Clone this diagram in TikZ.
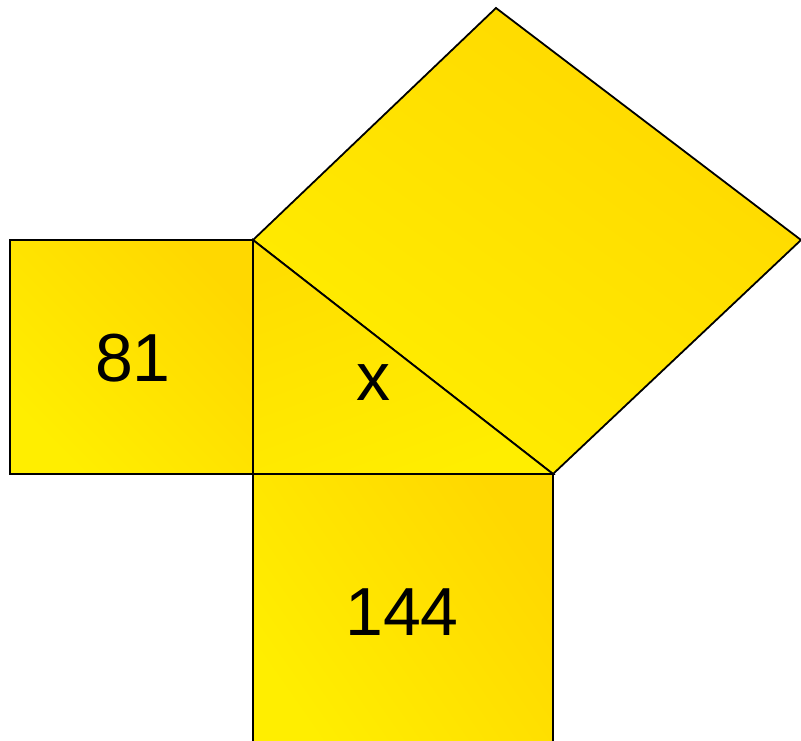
\documentclass[tikz,border=0pt]{standalone}
\usepackage{fontspec}
\setmainfont{Liberation Sans}
\definecolor{ybright}{RGB}{255,238,0}
\definecolor{ymid}{RGB}{255,228,0}
\definecolor{ydark}{RGB}{255,216,0}
\begin{document}
\begin{tikzpicture}[x=1pt,y=1pt,
  edge/.style={draw=black,line width=1.8pt,line join=miter},
  lab/.style={inner sep=0pt,font=\fontsize{68}{80}\selectfont}]
\useasboundingbox (0,0) rectangle (801,740);
\clip (0,0) rectangle (801,740);
% key points
\coordinate (A) at (253,500);
\coordinate (C) at (253,266);
\coordinate (B) at (553,266);
\coordinate (R) at (801,500);
\coordinate (T) at (496,732);
\coordinate (L1) at (10,266);
\coordinate (L2) at (10,500);
\coordinate (D1) at (553,-10);
\coordinate (D2) at (253,-10);
% left square
\path[edge,left color=ybright,right color=ydark,shading angle=135] (L1) -- (C) -- (A) -- (L2) -- cycle;
% bottom square
\path[edge,left color=ybright,right color=ydark,shading angle=125] (C) -- (B) -- (D1) -- (D2) -- cycle;
% hypotenuse square
\path[edge,top color=ydark,bottom color=ybright,shading angle=-35] (A) -- (B) -- (R) -- (T) -- cycle;
% triangle
\path[edge,top color=ymid!50!ydark,bottom color=ybright,shading angle=20] (A) -- (C) -- (B) -- cycle;
% labels
\node[lab] (n81) at (133,382) {81};
\node[lab] (nx) at (373,357) {x};
\node[lab] (n144) at (402,128) {144};
\end{tikzpicture}
\end{document}
